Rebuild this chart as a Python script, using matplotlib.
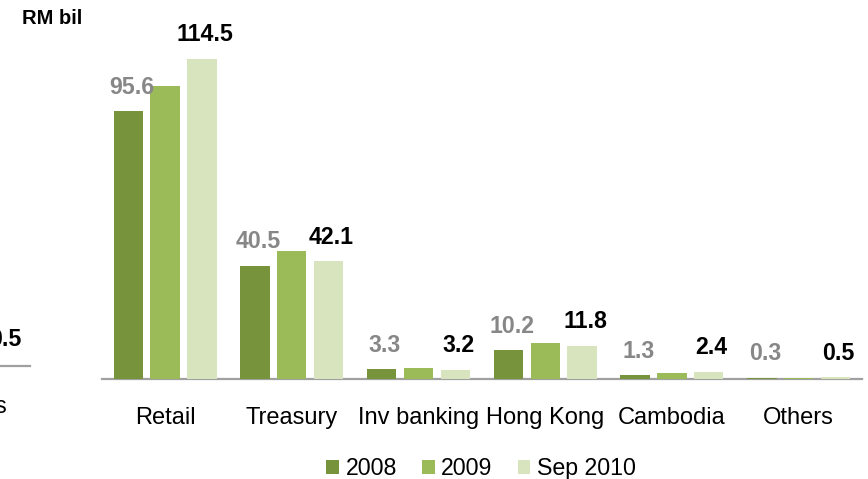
import matplotlib
matplotlib.use("Agg")
import matplotlib.pyplot as plt
from matplotlib.patches import Patch
from matplotlib.lines import Line2D
import numpy as np

plt.rcParams['font.family'] = ['Liberation Sans', 'DejaVu Sans']

categories = ["Retail", "Treasury", "Inv banking", "Hong Kong", "Cambodia", "Others"]
series_names = ["2008", "2009", "Sep 2010"]
v2008 = [95.6, 40.5, 3.3, 10.2, 1.3, 0.3]
v2009 = [104.8, 45.8, 4.0, 12.6, 2.0, 0.4]
vsep2010 = [114.5, 42.1, 3.2, 11.8, 2.4, 0.5]
labels2008 = ["95.6", "40.5", "3.3", "10.2", "1.3", "0.3"]
labelsSep2010 = ["114.5", "42.1", "3.2", "11.8", "2.4", "0.5"]

colors = ["#77933C", "#9BBB59", "#D7E4BD"]
W, H = 868, 479
fig = plt.figure(figsize=(W / 100, H / 100), dpi=100)

left_px, right_px, top_px, base_px = 101.7, 862.0, 40.0, 378.7
ax = fig.add_axes([left_px / W, 1 - base_px / H, (right_px - left_px) / W, (base_px - top_px) / H])

x = np.arange(len(categories))
offsets = [-0.29, 0.0, 0.29]
width = 0.232
all_vals = [v2008, v2009, vsep2010]
for vals, off, c in zip(all_vals, offsets, colors):
    ax.bar(x + off, vals, width=width, color=c, edgecolor='none', zorder=2)

ax.set_xlim(-0.5, len(categories) - 0.5)
ax.set_ylim(0, (base_px - top_px) / 2.795)

for s in ["top", "right", "left"]:
    ax.spines[s].set_visible(False)
ax.spines["bottom"].set_color("#A0A0A0")
ax.spines["bottom"].set_linewidth(1.6)
ax.spines["bottom"].set_zorder(1)
ax.set_yticks([])
ax.set_xticks(x)
ax.set_xticklabels(categories, fontsize=17, color="black")
ax.tick_params(axis='x', length=0, pad=20.5)

for xi, v, lab in zip(x, v2008, labels2008):
    ax.annotate(lab, (xi + offsets[0], v), xytext=(2.2, 17.3), textcoords='offset points',
                ha='center', va='center', fontsize=16.7, fontweight='bold', color="#878787")
for xi, v, lab in zip(x, vsep2010, labelsSep2010):
    ax.annotate(lab, (xi + offsets[2], v), xytext=(2.2, 17.3), textcoords='offset points',
                ha='center', va='center', fontsize=16.7, fontweight='bold', color="black")

fig.text(22 / W, 1 - 18 / H, "RM bil", fontsize=14.5, fontweight='bold', ha='left', va='center')

# fragments of a neighbouring chart cut off at the left edge (as in the reference)
fig.text(22 / W, 1 - 340 / H, "0.5", fontsize=16.7, fontweight='bold', ha='right', va='center')
fig.add_artist(Line2D([0, 30 / W], [1 - 365.7 / H, 1 - 365.7 / H], color="#A0A0A0", lw=1.6))
fig.text(6 / W, 1 - 407 / H, "s", fontsize=17, ha='right', va='center')

handles = [Patch(facecolor=c, edgecolor='none', label=n) for c, n in zip(colors, series_names)]
fig.legend(handles=handles, loc='center', bbox_to_anchor=(481 / W, 1 - 468.5 / H), ncol=3,
           frameon=False, fontsize=16.7, handlelength=0.55, handleheight=0.55,
           handletextpad=0.28, columnspacing=1.08, borderpad=0, borderaxespad=0)

fig.savefig("out.png", dpi=100)
